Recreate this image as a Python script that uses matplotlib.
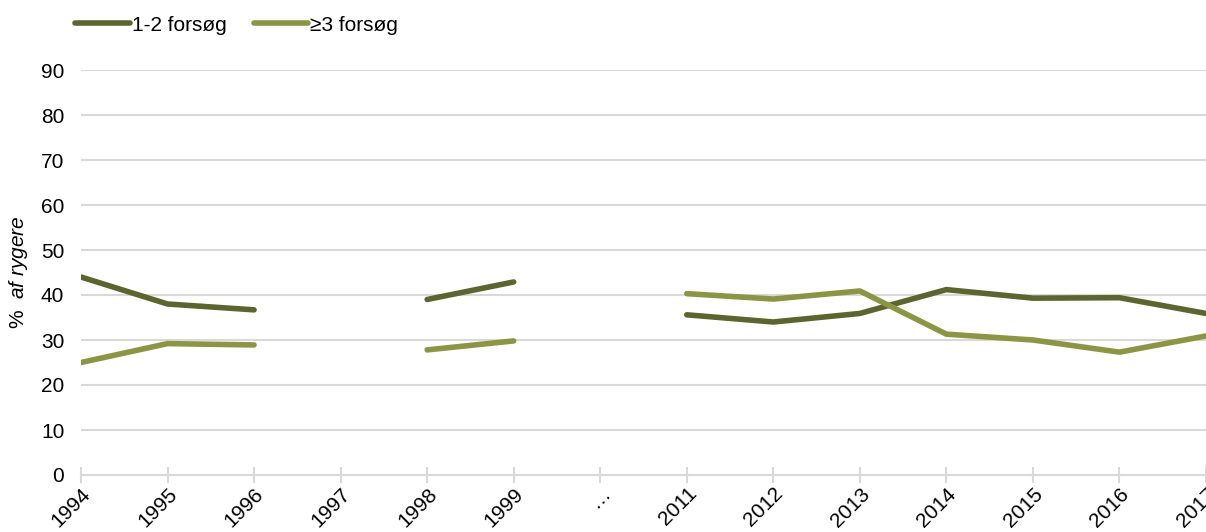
import numpy as np
import matplotlib.pyplot as plt

plt.rcParams['font.family'] = ['Liberation Sans', 'DejaVu Sans']
plt.rcParams['mathtext.fontset'] = 'custom'
plt.rcParams['mathtext.it'] = 'Liberation Sans:italic'
plt.rcParams['mathtext.rm'] = 'Liberation Sans'

years = ['1994', '1995', '1996', '1997', '1998', '1999', '…',
         '2011', '2012', '2013', '2014', '2015', '2016', '2017']
# gaps (no data) as nan
forsog_1_2 = [44.0, 38.0, 36.7, np.nan, 39.0, 42.9, np.nan,
              35.6, 34.0, 35.9, 41.2, 39.3, 39.4, 35.9]
forsog_3 = [25.0, 29.2, 28.9, np.nan, 27.8, 29.8, np.nan,
            40.3, 39.1, 40.9, 31.3, 30.0, 27.3, 30.9]

dark = '#5c652f'
light = '#8c9544'
grid = '#d9d9d9'
fs = 15

fig = plt.figure(figsize=(12.06, 5.32), dpi=100)
ax = fig.add_axes([81/1206, 57/532, 1 - 81/1206, 405/532])

x = np.arange(len(years))
ax.plot(x, forsog_1_2, color=dark, lw=4, solid_capstyle='round',
        solid_joinstyle='round', label='1-2 forsøg', zorder=3)
ax.plot(x, forsog_3, color=light, lw=4, solid_capstyle='round',
        solid_joinstyle='round', label='≥3 forsøg', zorder=3)

ax.set_xlim(0, len(years) - 1)
ax.set_ylim(0, 90)
ax.set_yticks(np.arange(0, 91, 10))
ax.set_xticks(x)
ax.set_xticklabels(years, rotation=45, ha='right', rotation_mode='anchor')
ax.tick_params(axis='y', length=0, labelsize=fs, pad=12, colors='black')
ax.tick_params(axis='x', direction='inout', length=11, width=1.5, color=grid,
               labelsize=fs, pad=1)
ax.yaxis.grid(True, color=grid, lw=1.5)
ax.set_axisbelow(True)
for s in ['top', 'right', 'left']:
    ax.spines[s].set_visible(False)
ax.spines['bottom'].set_color(grid)
ax.spines['bottom'].set_linewidth(1.5)

ax.set_ylabel('%  $\\it{af\\ rygere}$', fontsize=fs, labelpad=8)

fig.legend(loc='upper left', bbox_to_anchor=(0.047, 1.006), ncol=2, frameon=False,
           fontsize=fs, handlelength=2.6, handletextpad=0.1, columnspacing=1.3)

plt.savefig('out.png', dpi=100)
